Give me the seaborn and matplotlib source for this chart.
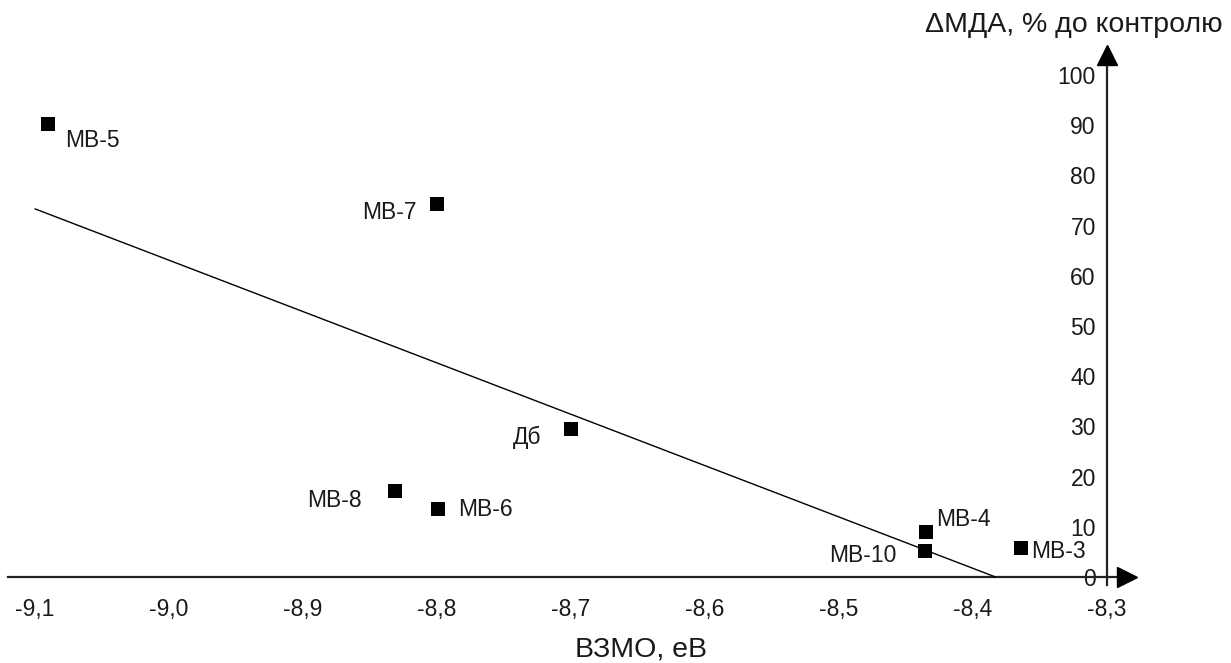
import numpy as np
import pandas as pd
import matplotlib
matplotlib.use("Agg")
import matplotlib.pyplot as plt
import matplotlib.ticker as mticker
import seaborn as sns

# ---- data ----
names = ["МВ-5", "МВ-7", "Дб", "МВ-8", "МВ-6", "МВ-4", "МВ-10", "МВ-3"]
homo_ev = [-9.090, -8.800, -8.700, -8.831, -8.799, -8.435, -8.436, -8.364]
dmda_pct = [90.2, 74.3, 29.5, 17.1, 13.5, 9.0, 5.2, 5.7]
x_ticks = [-9.1, -9.0, -8.9, -8.8, -8.7, -8.6, -8.5, -8.4, -8.3]
y_ticks = [0, 10, 20, 30, 40, 50, 60, 70, 80, 90, 100]
x_label = "ВЗМО, еВ"
y_label = "ΔМДА, % до контролю"

# label offsets in points (dx, dy), and alignment
label_style = {
    "МВ-5": (12, -12, "left"),
    "МВ-7": (-15, -6, "right"),
    "Дб": (-21, -6, "right"),
    "МВ-8": (-24, -7, "right"),
    "МВ-6": (14, 0, "left"),
    "МВ-4": (7, 9, "left"),
    "МВ-10": (-20, -3, "right"),
    "МВ-3": (7, -2, "left"),
}

df = pd.DataFrame({"name": names, "x": homo_ev, "y": dmda_pct})

sns.set_style("white")
plt.rcParams["font.family"] = ["Liberation Sans", "DejaVu Sans"]

W, H = 1231, 663
fig = plt.figure(figsize=(W / 100, H / 100), dpi=100)
ax_l, ax_r = 8.2, 1127.0
ax_t, ax_b = 55.0, 585.0
ax = fig.add_axes([ax_l / W, 1 - ax_b / H, (ax_r - ax_l) / W, (ax_b - ax_t) / H])
ax.set_xlim(-9.12, -8.285)
ax.set_ylim(-1.6, 104.0)

# regression line from data, from x=-9.1 until y reaches 0
k, b = np.polyfit(df["x"], df["y"], 1)
x_end = -b / k
xs = np.array([-9.1, x_end])
ax.plot(xs, k * xs + b, color="black", lw=1.0, zorder=2)

sns.scatterplot(data=df, x="x", y="y", marker="s", s=100, color="black",
                linewidth=0, ax=ax, zorder=3, legend=False)

for n, xv, yv in zip(df["name"], df["x"], df["y"]):
    dx, dy, ha = label_style[n]
    ax.annotate(n, (xv, yv), xytext=(dx, dy), textcoords="offset points",
                ha=ha, va="center", fontsize=16.5, color="#1a1a1a", zorder=4)

# axes as arrows crossing at (x=-8.3, y=0)
for s in ["top", "right"]:
    ax.spines[s].set_visible(False)
ax.spines["left"].set_position(("data", -8.3))
ax.spines["bottom"].set_position(("data", 0))
for s in ["left", "bottom"]:
    ax.spines[s].set_linewidth(1.6)
    ax.spines[s].set_color("#222222")
    ax.spines[s].set_zorder(1)

ax.set_xticks(x_ticks)
ax.set_yticks(y_ticks)
ax.xaxis.set_major_formatter(mticker.FuncFormatter(lambda v, p: f"{v:.1f}".replace(".", ",")))
ax.yaxis.set_major_formatter(mticker.FuncFormatter(lambda v, p: f"{v:.0f}"))
ax.tick_params(axis="x", direction="inout", length=8, width=1.4, colors="#222222",
               labelsize=16.5, pad=11, labelcolor="#1a1a1a")
ax.tick_params(axis="y", direction="inout", length=8, width=1.4, colors="#222222",
               labelsize=16.5, pad=4, labelcolor="#1a1a1a")
ax.set_xlabel("")
ax.set_ylabel("")

ax.plot(1, 0, marker=">", ms=15, color="black", transform=ax.get_yaxis_transform(),
        clip_on=False, zorder=5)
ax.plot(-8.3, 1, marker="^", ms=15, color="black", transform=ax.get_xaxis_transform(),
        clip_on=False, zorder=5)

fig.text(641 / W, 1 - 657 / H, x_label, ha="center", va="baseline", fontsize=20.5, color="#1a1a1a")
fig.text(1223 / W, 1 - 32 / H, y_label, ha="right", va="baseline", fontsize=20.5, color="#1a1a1a")

fig.savefig("out.png", dpi=100, facecolor="white")
